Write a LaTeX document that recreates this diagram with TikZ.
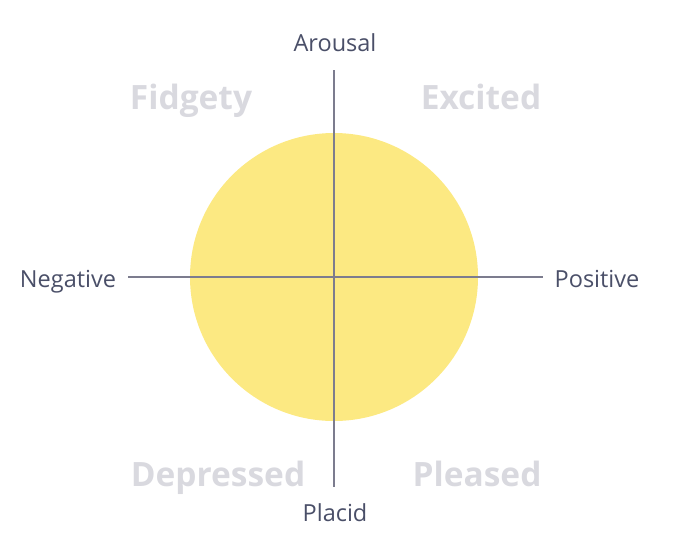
\documentclass[tikz,border=0pt]{standalone}
\usepackage{fontspec}
\setmainfont{Open Sans}
\definecolor{circ}{HTML}{FCE982}
\definecolor{axis}{HTML}{7C7C8E}
\definecolor{lbl}{HTML}{4A4F68}
\definecolor{quad}{HTML}{D9D9DF}
\begin{document}
\begin{tikzpicture}[x=1pt,y=-1pt,
  axislabel/.style={text=lbl,font=\fontsize{23.5}{26}\selectfont,inner sep=0pt},
  quadlabel/.style={text=quad,font=\fontsize{33.5}{38}\selectfont\bfseries,inner sep=0pt},
  axisline/.style={draw=axis,line width=1.5pt}]
\useasboundingbox (0,0) rectangle (674,550);
\fill[circ] (334,277) circle (144);
\coordinate (top) at (334,70);
\coordinate (bot) at (334,487);
\coordinate (lft) at (128,277);
\coordinate (rgt) at (543,277);
\draw[axisline] (top) -- (bot);
\draw[axisline] (lft) -- (rgt);
\node[axislabel,anchor=base] (arousal) at (335,51) {Arousal};
\node[axislabel,anchor=base] (placid) at (335,521) {Placid};
\node[axislabel,anchor=base] (negative) at (68,287) {Negative};
\node[axislabel,anchor=base] (positive) at (597,287) {Positive};
\node[quadlabel,anchor=base] (fidgety) at (191,109) {Fidgety};
\node[quadlabel,anchor=base] (excited) at (481,109) {Excited};
\node[quadlabel,anchor=base] (depressed) at (218,486) {Depressed};
\node[quadlabel,anchor=base] (pleased) at (477,486) {Pleased};
\end{tikzpicture}
\end{document}
